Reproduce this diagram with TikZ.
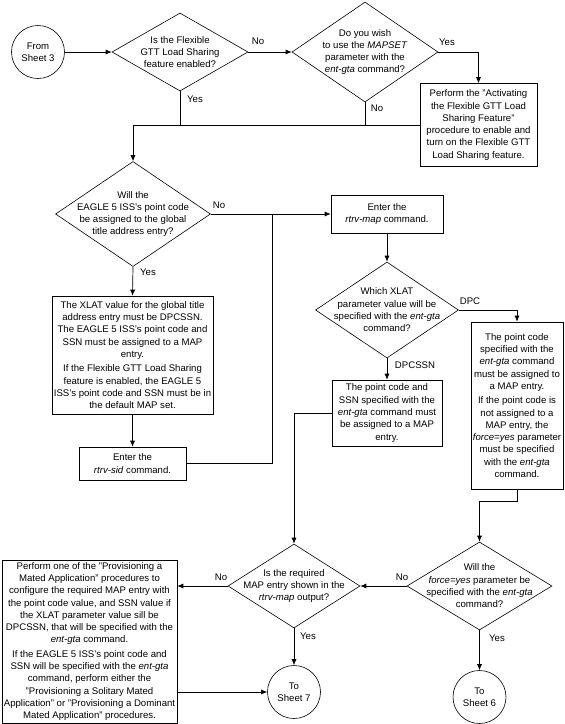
\documentclass[tikz,border=0pt]{standalone}
\usepackage{fontspec}
\setmainfont{Liberation Sans}
\usetikzlibrary{shapes.geometric,arrows.meta}
\begin{document}
\begin{tikzpicture}[x=1pt,y=-1pt,
  every node/.style={font=\fontsize{9.6}{12.3}\selectfont},
  ln/.style={line width=0.7pt},
  arr/.style={ln,-{Latex[length=6pt,width=5pt]}},
  dec/.style={diamond,draw,line width=0.6pt,inner sep=0pt},
  box/.style={draw,line width=0.6pt,rectangle,align=center,inner sep=1pt},
  term/.style={draw,line width=0.6pt,circle,align=center,inner sep=0pt,minimum size=53pt},
  dtext/.style={align=center,inner sep=0pt},
  tag/.style={inner sep=0pt}]
\useasboundingbox (0,0) rectangle (565,724);

% terminals
\node[term] (c3) at (38,52) {From\\Sheet 3};
\node[term] (c7) at (294,692) {To\\Sheet 7};
\node[term] (c6) at (479.5,697) {To\\Sheet 6};

% decisions
\node[dec,minimum width=136pt,minimum height=78pt] (d1) at (180,52)
  {};
\node[dtext] (d1t) at (d1.center) {Is the Flexible\\GTT Load Sharing\\feature enabled?};
\node[dec,minimum width=146pt,minimum height=100pt] (d2) at (365,52) {};
\node[dtext] (d2t) at (d2.center) {Do you wish\\to use the \textit{MAPSET}\\parameter with the\\\textit{ent-gta} command?};
\node[dec,minimum width=155pt,minimum height=105pt] (d3) at (133,214) {};
\node[dtext] (d3t) at (d3.center) {Will the\\EAGLE 5 ISS's point code\\be assigned to the global\\title address entry?};
\node[dec,minimum width=143pt,minimum height=96pt] (d4) at (387,310) {};
\node[dtext] (d4t) at (d4.center) {Which XLAT\\parameter value will be\\specified with the \textit{ent-gta}\\command?};
\node[dec,minimum width=132pt,minimum height=84pt] (d5) at (294,586) {};
\node[dtext] (d5t) at (d5.center) {Is the required\\MAP entry shown in the\\\textit{rtrv-map} output?};
\node[dec,minimum width=145pt,minimum height=88pt] (d6) at (479.5,586) {};
\node[dtext] (d6t) at (d6.center) {Will the\\\textit{force=yes} parameter be\\specified with the \textit{ent-gta}\\command?};

% boxes
\node[box,minimum width=117pt,minimum height=83pt] (b4) at (478.5,125)
  {Perform the "Activating\\the Flexible GTT Load\\Sharing Feature"\\procedure to enable and\\turn on the Flexible GTT\\Load Sharing feature.};
\node[box,minimum width=112pt,minimum height=38pt] (bm) at (387,214)
  {Enter the\\\textit{rtrv-map} command.};
\node[box,minimum width=161pt,minimum height=118pt] (b6) at (132.5,355)
  {The XLAT value for the global title\\address entry must be DPCSSN.\\The EAGLE 5 ISS's point code and\\SSN must be assigned to a MAP\\entry.\\[2pt]If the Flexible GTT Load Sharing\\feature is enabled, the EAGLE 5\\ISS's point code and SSN must be in\\the default MAP set.};
\node[box,minimum width=107pt,minimum height=33pt] (b7) at (132.5,463.5)
  {Enter the\\\textit{rtrv-sid} command.};
\node[box,minimum width=110pt,minimum height=66pt] (b9) at (387,413)
  {The point code and\\SSN specified with the\\\textit{ent-gta} command must\\be assigned to a MAP\\entry.};
\node[box,minimum width=92pt,minimum height=167pt] (b10) at (517,405.5)
  {The point code\\specified with the\\\textit{ent-gta} command\\must be assigned to\\a MAP entry.\\[2pt]If the point code is\\not assigned to a\\MAP entry, the\\\textit{force=yes} parameter\\must be specified\\with the \textit{ent-gta}\\command.};
\node[box,minimum width=175pt,minimum height=163pt] (b11) at (89.5,641.5)
  {Perform one of the "Provisioning a\\Mated Application" procedures to\\configure the required MAP entry with\\the point code value, and SSN value if\\the XLAT parameter value sill be\\DPCSSN, that will be specified with the\\\textit{ent-gta} command.\\[2pt]If the EAGLE 5 ISS's point code and\\SSN will be specified with the \textit{ent-gta}\\command, perform either the\\"Provisioning a Solitary Mated\\Application" or "Provisioning a Dominant\\Mated Application" procedures.};

% junction
\coordinate (j) at (272,214);

% connectors
\draw[arr] (c3) -- (d1.west);
\draw[arr] (d1.east) -- (d2.west);
\draw[arr] (d2.east) -| (b4.north);
\draw[ln] (d1.south) -- (d1.south |- b4.west);
\draw[ln] (d2.south) -- (d2.south |- b4.west);
\draw[arr] (b4.west) -| (d3.north);
\draw[arr] (d3.east) -- (bm.west);
\draw[arr] (d3.south) -- (b6.north);
\draw[arr] (b6.south) -- (b7.north);
\draw[ln] (b7.east) -| (j);
\draw[arr] (bm.south) -- (d4.north);
\draw[arr] (d4.east) -| (b10.north);
\draw[arr] (d4.south) -- (b9.north);
\draw[arr] (b9.west) -| (d5.north);
\draw[arr] (b10.south) -- ++(0,12) -| (d6.north);
\draw[arr] (d6.west) -- (d5.east);
\draw[arr] (d5.west) -- (b11.east |- d5.west);
\draw[arr] (d5.south) -- (c7.north);
\draw[arr] (d6.south) -- (c6.north);
\draw[arr] (c7.west -| b11.east) -- (c7.west);

% branch labels
\node[tag] (l1) at (258,41) {No};
\node[tag] (l2) at (195,99) {Yes};
\node[tag] (l3) at (447,42) {Yes};
\node[tag] (l4) at (377,108) {No};
\node[tag] (l5) at (219,205) {No};
\node[tag] (l6) at (148,272) {Yes};
\node[tag] (l7) at (470,301) {DPC};
\node[tag] (l8) at (415,365) {DPCSSN};
\node[tag] (l9) at (221,577) {No};
\node[tag] (l10) at (308,636) {Yes};
\node[tag] (l11) at (402,577) {No};
\node[tag] (l12) at (497,638) {Yes};
\end{tikzpicture}
\end{document}
